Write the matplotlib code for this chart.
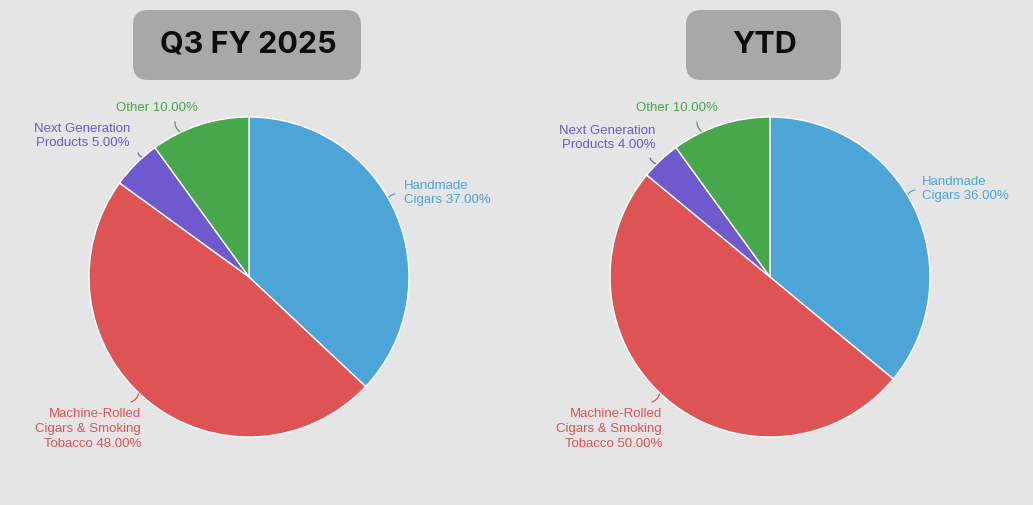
import numpy as np
import matplotlib
matplotlib.use("Agg")
import matplotlib.pyplot as plt
from matplotlib.patches import FancyBboxPatch

# data
categories = ["Handmade\nCigars", "Machine-Rolled\nCigars & Smoking\nTobacco",
              "Next Generation\nProducts", "Other"]
q3_values = [37.0, 48.0, 5.0, 10.0]
ytd_values = [36.0, 50.0, 4.0, 10.0]
titles = ["Q3 FY 2025", "YTD"]
colors = ["#4ca5d6", "#de5454", "#6e5acd", "#47a74b"]

W, H = 1033, 505
BG = "#e5e5e5"

# layout (pixel coords, y measured from top)
pie_centers = [(249, 277), (770, 277)]
radius = 160
title_boxes = [(133, 10, 228, 70), (686, 10, 155, 70)]
# label anchor offsets from pie centre (dx, dy down) and alignment
label_offsets = [
    [(155, -84, "left"), (-108, 152, "right"), (-119, -141, "right"), (-92, -169, "center")],
    [(152, -88, "left"), (-108, 152, "right"), (-115, -139, "right"), (-93, -169, "center")],
]
# outer end of the little connector lines, offsets from pie centre
conn_ends = [
    [(146, -83), (-118, 125), (-111, -124), (-74, -155)],
    [(145, -87), (-118, 125), (-120, -119), (-73, -155)],
]

fig = plt.figure(figsize=(W / 100, H / 100), dpi=100)
fig.patch.set_facecolor(BG)
ax = fig.add_axes([0, 0, 1, 1])
ax.set_facecolor(BG)

for i, vals in enumerate([q3_values, ytd_values]):
    cx, cy = pie_centers[i]
    wedges, _ = ax.pie(vals, colors=colors, startangle=90, counterclock=False,
                       center=(cx, H - cy), radius=radius, frame=True,
                       wedgeprops=dict(edgecolor="white", linewidth=1))
    for j, v in enumerate(vals):
        dx, dy, ha = label_offsets[i][j]
        ax.text(cx + dx, H - (cy + dy), f"{categories[j]} {v:.2f}%",
                ha=ha, va="center", multialignment=ha, color=colors[j],
                fontsize=9.5, family="Liberation Sans", linespacing=1.32)
        # connector: from the pie edge out towards the label
        ex, ey = conn_ends[i][j]
        n = np.hypot(ex, ey)
        sx, sy = ex / n * (radius + 1), ey / n * (radius + 1)
        ax.annotate("", xy=(cx + sx, H - (cy + sy)), xytext=(cx + ex, H - (cy + ey)),
                    arrowprops=dict(arrowstyle="-", color=colors[j], lw=0.9,
                                    connectionstyle="arc3,rad=0.25",
                                    shrinkA=0, shrinkB=0))

    bx, by, bw, bh = title_boxes[i]
    ax.add_patch(FancyBboxPatch((bx, H - by - bh), bw, bh,
                                boxstyle="round,pad=0,rounding_size=15",
                                facecolor="#a8a8a8", edgecolor="none"))
    ax.text(bx + bw / 2 + 1, H - by - bh / 2, titles[i], ha="center", va="center",
            fontsize=22, fontweight="bold", family="Inter", color="#0d0d0d")

ax.set_xlim(0, W)
ax.set_ylim(0, H)
ax.set_aspect("auto")
ax.axis("off")

fig.savefig("out.png", dpi=100, facecolor=BG)
